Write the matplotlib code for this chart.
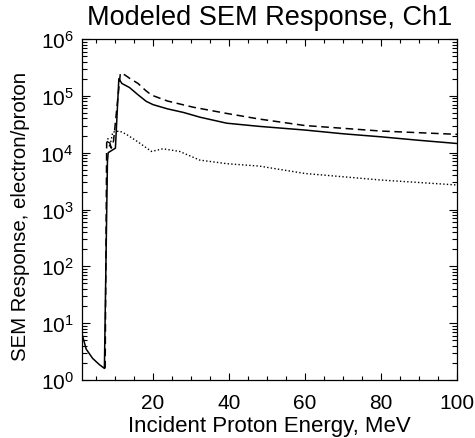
import matplotlib
matplotlib.use("Agg")
import matplotlib.pyplot as plt
from matplotlib.ticker import MultipleLocator, LogLocator, NullFormatter, FixedLocator

plt.rcParams['font.family'] = ['Liberation Sans', 'DejaVu Sans']
plt.rcParams['mathtext.fontset'] = 'custom'
plt.rcParams['mathtext.rm'] = 'Liberation Sans'
plt.rcParams['mathtext.it'] = 'Liberation Sans'
plt.rcParams['mathtext.bf'] = 'Liberation Sans'

# Solid curve
e_solid = [1.3, 2.4, 4.1, 5.9, 7.2, 8.0, 8.2, 10.1, 11.0, 11.8, 13.8, 16, 18.2, 20,
           23.8, 28, 32.4, 39.4, 48, 60, 70, 80, 90, 100]
r_solid = [6.5, 3.5, 2.4, 1.86, 1.6, 7e3, 1.0e4, 1.2e4, 2.0e5, 1.65e5, 1.4e5, 1.05e5,
           8.0e4, 7.0e4, 5.9e4, 5.1e4, 4.2e4, 3.3e4, 2.9e4, 2.5e4, 2.15e4, 1.9e4,
           1.65e4, 1.45e4]

# Dashed curve
e_dash = [7.4, 7.8, 8.4, 9.0, 9.6, 11.4, 12.5, 14, 16, 18, 19.6, 23.8, 30.6, 39.4,
          48, 60, 80, 100]
r_dash = [1.6, 1.5e4, 1.7e4, 1.2e4, 1.6e4, 2.5e5, 2.35e5, 2.0e5, 1.66e5, 1.25e5,
          1.03e5, 8.1e4, 6.3e4, 4.9e4, 3.9e4, 3.0e4, 2.4e4, 2.1e4]

# Dotted curve
e_dot = [8.1, 8.6, 9.4, 11.2, 13, 16, 19.6, 22.6, 27, 32.3, 39.4, 48, 60, 80, 100]
r_dot = [1.8e4, 1.25e4, 2.3e4, 2.4e4, 2.1e4, 1.55e4, 1.05e4, 1.17e4, 1.05e4, 7.4e3,
         6.4e3, 5.8e3, 4.3e3, 3.3e3, 2.7e3]

x_major = [20, 40, 60, 80, 100]
y_major = [1e0, 1e1, 1e2, 1e3, 1e4, 1e5, 1e6]

fig = plt.figure(figsize=(4.75, 4.39), dpi=100)
ax = fig.add_axes([0.1726, 0.1321, 0.9621 - 0.1726, 0.9089 - 0.1321])

ax.plot(e_solid, r_solid, color='black', lw=1.1, ls='-')
ax.plot(e_dash, r_dash, color='black', lw=1.1, ls=(0, (5, 3)))
ax.plot(e_dot, r_dot, color='black', lw=1.0, ls=(0, (1, 1.6)))

ax.set_yscale('log')
ax.set_xlim(1.3, 100)
ax.set_ylim(1, 1e6)

ax.xaxis.set_major_locator(FixedLocator(x_major))
ax.xaxis.set_minor_locator(MultipleLocator(5))
ax.yaxis.set_major_locator(FixedLocator(y_major))
ax.yaxis.set_minor_locator(LogLocator(base=10, subs=range(2, 10), numticks=20))
ax.yaxis.set_minor_formatter(NullFormatter())

ax.tick_params(axis='both', which='both', direction='in', top=True, right=True,
               labelsize=15, width=0.8, colors='black')
ax.tick_params(axis='x', which='major', length=5, pad=9)
ax.tick_params(axis='x', which='minor', length=3)
ax.tick_params(axis='y', which='major', length=6, pad=6)
ax.tick_params(axis='y', which='minor', length=3.5)
for s in ax.spines.values():
    s.set_linewidth(0.9)

ax.set_xlabel('Incident Proton Energy, MeV', fontsize=16, labelpad=2.5)
ax.set_ylabel('SEM Response, electron/proton', fontsize=14.7)
ax.yaxis.set_label_coords(-0.138, 0.482)
ax.set_title('Modeled SEM Response, Ch1', fontsize=19.5, pad=11)

fig.savefig('out.png', dpi=100)
